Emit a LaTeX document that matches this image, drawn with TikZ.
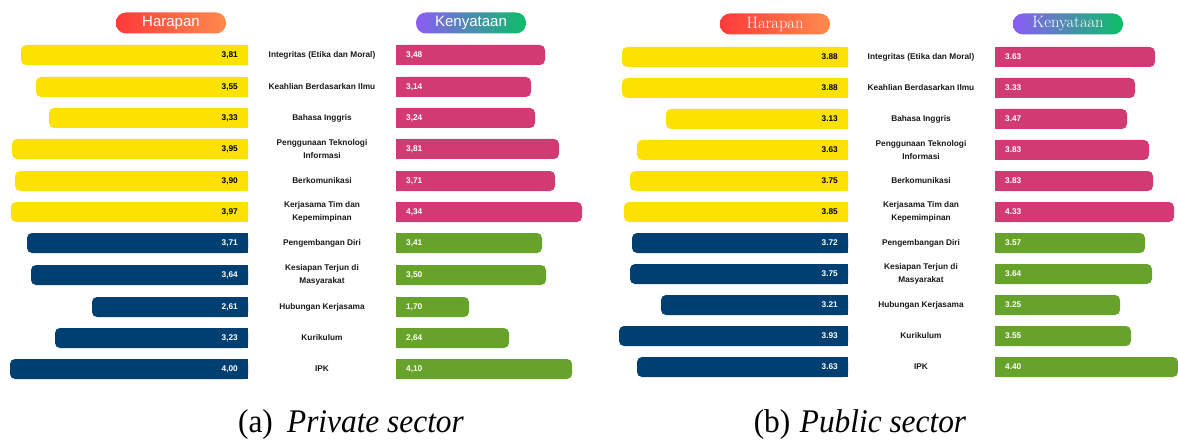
\documentclass[tikz,border=0pt]{standalone}
\usepackage{fontspec}
\usepackage{tikz}
\usetikzlibrary{calc}
\newfontfamily\labelfont{Liberation Sans}
\newfontfamily\capfont{Liberation Serif}
\definecolor{harYellow}{HTML}{FDE100}
\definecolor{harNavy}{HTML}{003F72}
\definecolor{kenPink}{HTML}{D13A72}
\definecolor{kenGreen}{HTML}{67A32A}
\definecolor{pillRed}{HTML}{FF3A3A}
\definecolor{pillOrange}{HTML}{FF8B4D}
\definecolor{pillPurple}{HTML}{8B5CF6}
\definecolor{pillGreen}{HTML}{0BBE66}
\tikzset{
	valtext/.style={inner sep=0pt, font=\labelfont\bfseries\fontsize{8.3}{9}\selectfont},
	itemtext/.style={inner sep=0pt, align=center, text=black!90, font=\labelfont\bfseries\fontsize{8.3}{13}\selectfont},
	pill/.style={rounded corners=10pt, minimum width=110pt, minimum height=21pt, inner sep=0pt, text=white},
}
\def\leftbar[#1,#2](#3:#4:#5)#6#7{%
	\fill[#1, rounded corners=5pt] (#3, #5) rectangle (#4, #5+20);
	\fill[#1] (#3+10, #5) rectangle (#4, #5+20);
	\node[valtext, anchor=east, text=#2] (#6) at (#4-10, #5+10) {#7};}
\def\rightbar[#1,#2](#3:#4:#5)#6#7{%
	\fill[#1, rounded corners=5pt] (#3, #5) rectangle (#4, #5+20);
	\fill[#1] (#3, #5) rectangle (#4-10, #5+20);
	\node[valtext, anchor=west, text=#2] (#6) at (#3+10, #5+10) {#7};}

\begin{document}
\begin{tikzpicture}[x=1pt, y=-1pt]
		%%%%% START %%%%%
		\useasboundingbox (0, 0) rectangle (1178, 441);
		
		%%% (a) private sector
		\node[pill, left color=pillRed, right color=pillOrange, font=\labelfont\fontsize{15}{18}\selectfont] (harapanA) at (171, 23) {Harapan};
		\node[pill, left color=pillPurple, right color=pillGreen, font=\labelfont\fontsize{15}{18}\selectfont] (kenyataanA) at (471, 23) {Kenyataan};
		
		\leftbar[harYellow,black](21:248:45){hA1}{3,81}
		\leftbar[harYellow,black](36:248:77){hA2}{3,55}
		\leftbar[harYellow,black](49:248:108){hA3}{3,33}
		\leftbar[harYellow,black](12:248:139){hA4}{3,95}
		\leftbar[harYellow,black](15:248:171){hA5}{3,90}
		\leftbar[harYellow,black](11:248:202){hA6}{3,97}
		\leftbar[harNavy,white](27:248:233){hA7}{3,71}
		\leftbar[harNavy,white](31:248:265){hA8}{3,64}
		\leftbar[harNavy,white](92:248:297){hA9}{2,61}
		\leftbar[harNavy,white](55:248:328){hA10}{3,23}
		\leftbar[harNavy,white](10:248:359){hA11}{4,00}
		
		\rightbar[kenPink,white](396:545:45){kA1}{3,48}
		\rightbar[kenPink,white](396:531:77){kA2}{3,14}
		\rightbar[kenPink,white](396:535:108){kA3}{3,24}
		\rightbar[kenPink,white](396:559:139){kA4}{3,81}
		\rightbar[kenPink,white](396:555:171){kA5}{3,71}
		\rightbar[kenPink,white](396:582:202){kA6}{4,34}
		\rightbar[kenGreen,white](396:542:233){kA7}{3,41}
		\rightbar[kenGreen,white](396:546:265){kA8}{3,50}
		\rightbar[kenGreen,white](396:469:297){kA9}{1,70}
		\rightbar[kenGreen,white](396:509:328){kA10}{2,64}
		\rightbar[kenGreen,white](396:572:359){kA11}{4,10}
		
		\node[itemtext] (labA1) at (322, 55) {Integritas (Etika dan Moral)};
		\node[itemtext] (labA2) at (322, 87) {Keahlian Berdasarkan Ilmu};
		\node[itemtext] (labA3) at (322, 118) {Bahasa Inggris};
		\node[itemtext] (labA4) at (322, 149) {Penggunaan Teknologi\\Informasi};
		\node[itemtext] (labA5) at (322, 181) {Berkomunikasi};
		\node[itemtext] (labA6) at (322, 212) {Kerjasama Tim dan\\Kepemimpinan};
		\node[itemtext] (labA7) at (322, 243) {Pengembangan Diri};
		\node[itemtext] (labA8) at (322, 275) {Kesiapan Terjun di\\Masyarakat};
		\node[itemtext] (labA9) at (322, 307) {Hubungan Kerjasama};
		\node[itemtext] (labA10) at (322, 338) {Kurikulum};
		\node[itemtext] (labA11) at (322, 369) {IPK};
		
		\node[anchor=base, font=\capfont\fontsize{33}{36}\selectfont] (capA) at (351, 432) {\scalebox{0.95}[1]{(a)\hspace{15pt}\textit{Private sector}}};
		
		%%% (b) public sector
		\node[pill, left color=pillRed, right color=pillOrange, font=\fontsize{16.5}{18}\selectfont] (harapanB) at (775, 24) {Harapan};
		\node[pill, left color=pillPurple, right color=pillGreen, font=\fontsize{16.5}{18}\selectfont] (kenyataanB) at (1068, 24) {Kenyataan};
		
		\leftbar[harYellow,black](622:848:47){hB1}{3.88}
		\leftbar[harYellow,black](622:848:78){hB2}{3.88}
		\leftbar[harYellow,black](666:848:109){hB3}{3.13}
		\leftbar[harYellow,black](637:848:140){hB4}{3.63}
		\leftbar[harYellow,black](630:848:171){hB5}{3.75}
		\leftbar[harYellow,black](624:848:202){hB6}{3.85}
		\leftbar[harNavy,white](632:848:233){hB7}{3.72}
		\leftbar[harNavy,white](630:848:264){hB8}{3.75}
		\leftbar[harNavy,white](661:848:295){hB9}{3.21}
		\leftbar[harNavy,white](619:848:326){hB10}{3.93}
		\leftbar[harNavy,white](637:848:357){hB11}{3.63}
		
		\rightbar[kenPink,white](995:1155:47){kB1}{3.63}
		\rightbar[kenPink,white](995:1135:78){kB2}{3.33}
		\rightbar[kenPink,white](995:1127:109){kB3}{3.47}
		\rightbar[kenPink,white](995:1149:140){kB4}{3.83}
		\rightbar[kenPink,white](995:1153:171){kB5}{3.83}
		\rightbar[kenPink,white](995:1174:202){kB6}{4.33}
		\rightbar[kenGreen,white](995:1145:233){kB7}{3.57}
		\rightbar[kenGreen,white](995:1152:264){kB8}{3.64}
		\rightbar[kenGreen,white](995:1120:295){kB9}{3.25}
		\rightbar[kenGreen,white](995:1131:326){kB10}{3.55}
		\rightbar[kenGreen,white](995:1178:357){kB11}{4.40}
		
		\node[itemtext] (labB1) at (921, 57) {Integritas (Etika dan Moral)};
		\node[itemtext] (labB2) at (921, 88) {Keahlian Berdasarkan Ilmu};
		\node[itemtext] (labB3) at (921, 119) {Bahasa Inggris};
		\node[itemtext] (labB4) at (921, 150) {Penggunaan Teknologi\\Informasi};
		\node[itemtext] (labB5) at (921, 181) {Berkomunikasi};
		\node[itemtext] (labB6) at (921, 212) {Kerjasama Tim dan\\Kepemimpinan};
		\node[itemtext] (labB7) at (921, 243) {Pengembangan Diri};
		\node[itemtext] (labB8) at (921, 274) {Kesiapan Terjun di\\Masyarakat};
		\node[itemtext] (labB9) at (921, 305) {Hubungan Kerjasama};
		\node[itemtext] (labB10) at (921, 336) {Kurikulum};
		\node[itemtext] (labB11) at (921, 367) {IPK};
		
		\node[anchor=base, font=\capfont\fontsize{33}{36}\selectfont] (capB) at (860, 432) {\scalebox{0.95}[1]{(b)\hspace{10pt}\textit{Public sector}}};
		%%%%% END %%%%%
\end{tikzpicture}
\end{document}
